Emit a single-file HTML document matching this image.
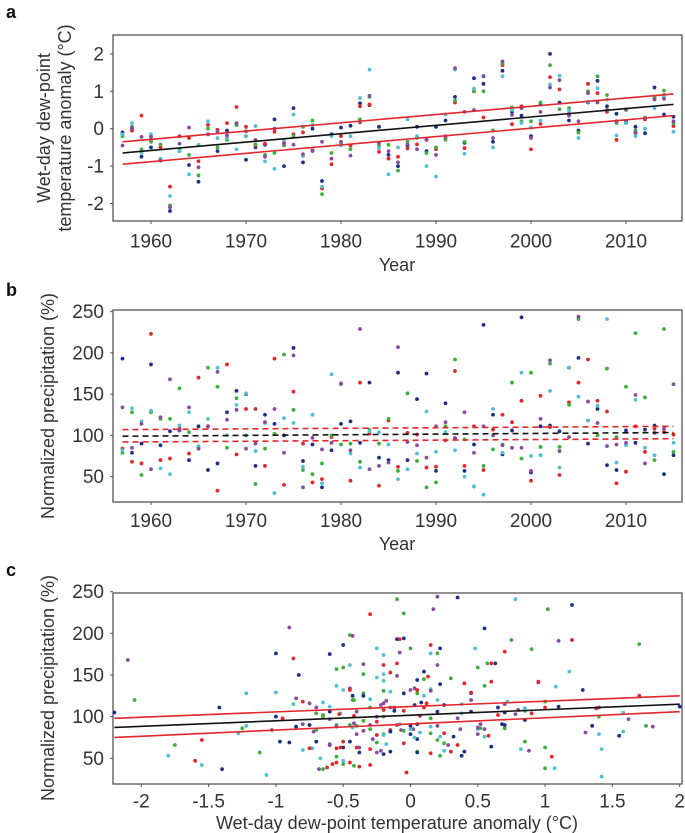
<!DOCTYPE html>
<html><head><meta charset="utf-8">
<style>
html,body{margin:0;padding:0;background:#fff;}
svg{display:block;font-family:"Liberation Sans",sans-serif;}
</style></head>
<body>
<svg id="chart" width="685" height="833" viewBox="0 0 685 833" xmlns="http://www.w3.org/2000/svg">
<text x="6" y="18" font-size="18" font-weight="bold" fill="#111">a</text>
<text x="6" y="296" font-size="18" font-weight="bold" fill="#111">b</text>
<text x="6" y="576" font-size="18" font-weight="bold" fill="#111">c</text>
<g id="pa"></g>
<g id="pb"></g>
<g id="pc"></g>
</svg>
<script>
const years = [];
for (let y = 1957; y <= 2015; y++) years.push(y);
const seriesNames = ['navy','red','green','cyan','purple'];
const seriesColors = ['#1c2f86','#e3262b','#3bb13b','#4ec2d4','#8a4a9e'];
// panel a: dew-point anomaly per year
const tempNavy  = [-0.1,0.0,-0.75,-0.5,-0.85,-2.2,-0.6,-0.97,-1.42,-0.15,-0.6,-0.05,0.1,-0.83,-0.5,-0.43,0.25,-1.0,0.55,-0.9,0.0,-1.4,-0.15,0.03,0.08,0.68,0.63,0.05,-0.7,-1.0,-0.45,0.05,-0.6,0.05,0.22,0.85,-0.38,1.35,1.2,-0.35,1.55,0.45,0.35,-0.2,0.65,2.0,0.7,0.22,-0.05,0.7,1.28,0.6,0.4,0.2,0.05,-0.12,1.1,0.38,0.32];
const tempRed   = [-0.15,-0.05,0.35,-0.3,-0.5,-1.55,-0.2,-0.25,-0.87,0.1,-0.03,0.15,0.58,0.05,-0.45,-0.4,-0.08,-0.38,-0.15,-0.1,-0.58,-1.6,-0.95,-0.2,-0.45,0.6,0.65,-0.62,-0.8,-0.75,-0.53,-0.42,-0.3,-0.55,-0.25,0.7,-0.52,1.0,0.3,-0.05,1.7,0.12,0.6,-0.55,0.13,1.38,1.05,0.4,-0.1,1.2,0.95,0.45,-0.3,0.15,-0.12,0.25,0.8,0.9,0.07];
const tempGreen = [-0.2,0.05,-0.55,-0.35,-0.42,-2.05,-0.55,-0.7,-1.25,0.0,-0.5,-0.3,0.1,-0.2,-0.42,-0.7,-0.65,-0.45,-0.2,0.05,0.22,-1.75,-0.65,-0.4,-0.55,0.25,0.85,-0.45,-0.43,-1.12,-0.35,-0.25,-0.65,-0.5,-0.3,0.75,-0.35,1.0,1.0,-0.05,1.75,0.57,0.2,0.2,0.7,1.7,0.52,0.55,-0.1,1.0,1.4,0.9,0.15,0.5,-0.05,0.3,0.85,1.02,0.15];
const tempCyan  = [-0.15,0.15,-0.65,-0.15,-0.8,-1.8,-0.6,-1.22,-0.43,0.2,-0.25,-0.25,-0.55,-0.2,0.07,-0.87,-1.07,-0.3,0.38,-0.73,0.1,-1.55,-0.2,-0.45,-0.2,0.82,1.58,-0.52,-1.22,-0.5,0.25,-0.2,-1.0,-1.28,0.38,1.58,-0.67,1.07,1.42,-0.5,1.4,0.5,0.15,0.03,0.22,1.18,1.42,0.48,-0.25,0.72,1.08,0.78,-0.18,0.15,-0.2,0.0,0.55,0.85,-0.08];
const tempPurple= [-0.45,0.02,-0.22,-0.22,-0.85,-2.1,-0.4,0.03,-1.03,-0.15,-0.08,-0.18,0.15,-0.07,-0.3,-0.75,0.0,-0.4,-0.43,-0.68,-0.6,-0.35,-0.8,-0.35,-0.72,0.17,0.88,-0.38,-0.6,-0.9,-0.42,-0.55,-0.28,-0.7,-0.2,1.62,0.45,0.5,1.4,-0.25,1.8,0.37,0.55,-0.25,0.45,1.1,1.3,0.35,0.2,0.95,0.7,0.5,0.2,0.52,-0.1,0.28,0.78,0.8,0.2];
// panel b: normalized precipitation (%)
const precNavy  = [193,79,90,186,88,105,106,70,111,58,66,128,154,150,63,125,114,100,206,69,89,37,82,114,117,91,164,73,70,176,70,144,175,57,139,96,57,89,234,125,77,106,243,55,111,112,105,182,194,90,132,64,58,106,91,107,112,53,76];
const precRed   = [84,68,66,223,70,72,108,78,170,111,33,186,77,132,132,63,193,40,153,90,43,47,98,162,45,164,102,39,118,62,103,101,61,62,94,178,63,111,58,107,125,116,142,45,148,110,52,140,164,192,142,129,42,56,111,80,108,104,101];
const precGreen = [79,128,52,128,120,120,157,104,86,182,159,85,145,100,41,84,102,198,131,58,53,66,100,89,90,68,107,90,120,57,151,69,37,43,111,192,95,38,63,83,89,164,72,176,86,187,86,137,241,118,100,181,98,159,224,146,70,229,80];
const precCyan  = [82,133,117,130,60,53,112,128,87,120,182,100,137,151,81,115,30,121,115,62,125,42,174,162,78,61,105,104,89,47,59,78,129,80,104,82,50,38,28,132,79,85,176,75,76,154,61,182,147,118,136,241,67,88,143,85,76,110,91];
const precPurple= [134,85,114,59,122,168,106,134,84,111,177,119,131,84,90,116,132,79,197,37,97,83,91,163,82,229,59,63,67,207,92,88,73,111,116,97,128,79,111,100,88,85,85,57,120,191,81,98,244,141,115,87,89,91,149,66,103,108,162];
// regression lines: [start, end] values
const lineAx = [1957, 2015];
const lineAfit = [-0.65, 0.65], lineAup = [-0.35, 0.93], lineAlo = [-0.95, 0.35];
const lineBfit = [99, 103.5], lineBup = [107, 111], lineBlo = [92, 96];
const lineCx = [-2.2, 2];
const lineCfit = [87, 115], lineCup = [98, 125], lineClo = [75, 106];
const ticksA_y = [2, 1, 0, -1, -2];
const ticksYear = [1960, 1970, 1980, 1990, 2000, 2010];
const ticksPrec = [250, 200, 150, 100, 50];
const ticksC_x = [-2, -1.5, -1, -0.5, 0, 0.5, 1, 1.5, 2];
const ticksC_xl = ['-2','-1.5','-1','-0.5','0','0.5','1','1.5','2'];

const temps = [tempNavy, tempRed, tempGreen, tempCyan, tempPurple];
const precs = [precNavy, precRed, precGreen, precCyan, precPurple];

const NS = 'http://www.w3.org/2000/svg';
function mk(parent, tag, attrs, text) {
  const e = document.createElementNS(NS, tag);
  for (const k in attrs) e.setAttribute(k, attrs[k]);
  if (text !== undefined) e.textContent = text;
  parent.appendChild(e);
  return e;
}
const xYear = y => 151 + (y - 1960) * 9.5;
const yA = v => 128.7 - v * 37.4;
const yB = v => 435.4 - (v - 100) * 0.825;
const xC = t => 410.5 + t * 134.6;
const yC = v => 758.3 - (v - 50) * 0.833;

function frame(g, x0, y0, x1, y1, nm) {
  const r = mk(g, 'rect', {x:x0, y:y0, width:x1-x0, height:y1-y0, fill:'none', stroke:'#555', 'stroke-width':1.3});
  
  
}
function ytick(g, y, label, nm) {
  mk(g, 'line', {x1:113, x2:110, y1:y, y2:y, stroke:'#555'});
  const t = mk(g, 'text', {x:104, y:y+6.5, 'font-size':19, 'text-anchor':'end', fill:'#333'}, label);
  
  
}
function xtick(g, x, yb, label, nm, off) {
  mk(g, 'line', {x1:x, x2:x, y1:yb, y2:yb+3, stroke:'#555'});
  const t = mk(g, 'text', {x:x, y:yb+off, 'font-size':19, 'text-anchor':'middle', fill:'#333'}, label);
  
  
}
function line(g, x1, y1, x2, y2, col, dash, nm) {
  const a = {x1:x1, y1:y1, x2:x2, y2:y2, stroke:col, 'stroke-width':1.6};
  if (dash) a['stroke-dasharray'] = '6,4';
  const l = mk(g, 'line', a);
  
  
}
function dot(g, x, y, s, nm) {
  const c = mk(g, 'circle', {cx:x, cy:y, r:1.9, fill:seriesColors[s]});
  
  
}

// Panel a
const ga = document.getElementById('pa');
frame(ga, 113, 35, 682, 221, 'panel-a-plot-area');
ticksA_y.forEach(v => ytick(ga, yA(v), String(v), 'panel-a-y-tick'));
ticksYear.forEach(y => xtick(ga, xYear(y), 221, String(y), 'panel-a-x-tick', 26.5));
years.forEach((yr, i) => temps.forEach((arr, s) => dot(ga, xYear(yr), yA(arr[i]), s, 'panel-a-point-' + seriesNames[s])));
line(ga, xYear(lineAx[0]), yA(lineAup[0]), xYear(lineAx[1]), yA(lineAup[1]), '#e3262b', false, 'panel-a-upper-ci');
line(ga, xYear(lineAx[0]), yA(lineAlo[0]), xYear(lineAx[1]), yA(lineAlo[1]), '#e3262b', false, 'panel-a-lower-ci');
line(ga, xYear(lineAx[0]), yA(lineAfit[0]), xYear(lineAx[1]), yA(lineAfit[1]), '#111', false, 'panel-a-trend-line');
let t = mk(ga, 'text', {x:397, y:271, 'font-size':18, 'text-anchor':'middle', fill:'#333'}, 'Year');


t = mk(ga, 'text', {transform:'translate(50,128) rotate(-90)', 'font-size':18, 'text-anchor':'middle', fill:'#333'}, 'Wet-day dew-point');


t = mk(ga, 'text', {transform:'translate(71,128) rotate(-90)', 'font-size':18, 'text-anchor':'middle', fill:'#333'}, 'temperature anomaly (°C)');



// Panel b
const gb = document.getElementById('pb');
frame(gb, 113, 310, 682, 502, 'panel-b-plot-area');
ticksPrec.forEach(v => ytick(gb, yB(v), String(v), 'panel-b-y-tick'));
ticksYear.forEach(y => xtick(gb, xYear(y), 502, String(y), 'panel-b-x-tick', 25));
years.forEach((yr, i) => precs.forEach((arr, s) => dot(gb, xYear(yr), yB(arr[i]), s, 'panel-b-point-' + seriesNames[s])));
line(gb, xYear(lineAx[0]), yB(lineBup[0]), xYear(lineAx[1]), yB(lineBup[1]), '#e3262b', true, 'panel-b-upper-ci');
line(gb, xYear(lineAx[0]), yB(lineBlo[0]), xYear(lineAx[1]), yB(lineBlo[1]), '#e3262b', true, 'panel-b-lower-ci');
line(gb, xYear(lineAx[0]), yB(lineBfit[0]), xYear(lineAx[1]), yB(lineBfit[1]), '#111', true, 'panel-b-trend-line');
t = mk(gb, 'text', {x:397, y:550, 'font-size':18, 'text-anchor':'middle', fill:'#333'}, 'Year');


t = mk(gb, 'text', {transform:'translate(54,406) rotate(-90)', 'font-size':18, 'text-anchor':'middle', fill:'#333'}, 'Normalized precipitation (%)');



// Panel c
const gc = document.getElementById('pc');
frame(gc, 113, 593, 682, 784, 'panel-c-plot-area');
ticksPrec.forEach(v => ytick(gc, yC(v), String(v), 'panel-c-y-tick'));
ticksC_x.forEach((v, i) => xtick(gc, xC(v), 784, ticksC_xl[i], 'panel-c-x-tick', 23.5));
years.forEach((yr, i) => precs.forEach((arr, s) => dot(gc, xC(temps[s][i]), yC(arr[i]), s, 'panel-c-point-' + seriesNames[s])));
line(gc, xC(lineCx[0]), yC(lineCup[0]), xC(lineCx[1]), yC(lineCup[1]), '#e3262b', false, 'panel-c-upper-ci');
line(gc, xC(lineCx[0]), yC(lineClo[0]), xC(lineCx[1]), yC(lineClo[1]), '#e3262b', false, 'panel-c-lower-ci');
line(gc, xC(lineCx[0]), yC(lineCfit[0]), xC(lineCx[1]), yC(lineCfit[1]), '#111', false, 'panel-c-trend-line');
t = mk(gc, 'text', {x:397, y:829, 'font-size':18, 'text-anchor':'middle', fill:'#333'}, 'Wet-day dew-point temperature anomaly (°C)');


t = mk(gc, 'text', {transform:'translate(54,688) rotate(-90)', 'font-size':18, 'text-anchor':'middle', fill:'#333'}, 'Normalized precipitation (%)');


</script>
</body></html>
